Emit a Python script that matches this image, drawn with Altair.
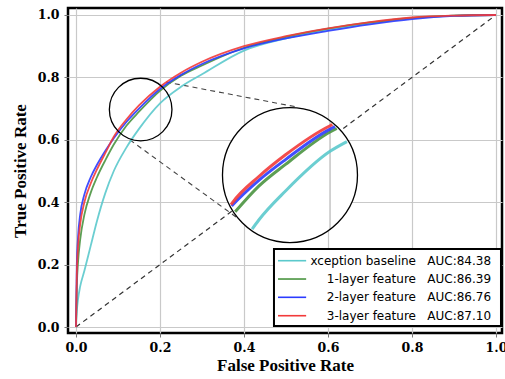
import altair as alt
import pandas as pd
import numpy as np

# ---------------- data ----------------
FPR = [0, 0.002, 0.005, 0.01, 0.02, 0.035, 0.05, 0.07, 0.09, 0.12, 0.15, 0.2,
       0.25, 0.3, 0.4, 0.5, 0.6, 0.7, 0.8, 0.9, 1.0]
TPR_BASE = [0, 0.05, 0.09, 0.13, 0.18, 0.26, 0.34, 0.43, 0.5, 0.575, 0.635, 0.717,
            0.77, 0.81, 0.886, 0.925, 0.952, 0.973, 0.99, 0.998, 1.0]
TPR_L1 = [0, 0.13, 0.21, 0.28, 0.36, 0.43, 0.48, 0.535, 0.585, 0.645, 0.69, 0.757,
          0.805, 0.838, 0.895, 0.93, 0.956, 0.976, 0.991, 0.998, 1.0]
TPR_L2 = [0, 0.2, 0.29, 0.36, 0.425, 0.48, 0.52, 0.565, 0.605, 0.657, 0.70, 0.763,
          0.808, 0.843, 0.893, 0.925, 0.949, 0.97, 0.987, 0.997, 1.0]
TPR_L3 = [0, 0.17, 0.26, 0.33, 0.40, 0.46, 0.505, 0.558, 0.61, 0.665, 0.71, 0.77,
          0.815, 0.85, 0.9, 0.932, 0.957, 0.977, 0.992, 0.998, 1.0]

NAMES = ["xception baseline", "1-layer feature", "2-layer feature", "3-layer feature"]
AUCS = ["AUC:84.38", "AUC:86.39", "AUC:86.76", "AUC:87.10"]
COLORS = ["#5bc9cc", "#4a9440", "#2b3bff", "#f23a3a"]
SERIES = [TPR_BASE, TPR_L1, TPR_L2, TPR_L3]

TICKS = [0.0, 0.2, 0.4, 0.6, 0.8, 1.0]

# ---------------- layout ----------------
XMIN, XMAX = -0.019, 1.0143
YMIN, YMAX = -0.0192, 1.0224
W, H = 434, 325
SX = W / (XMAX - XMIN)
SY = H / (YMAX - YMIN)

# zoom annotation (data coordinates)
SMALL_C = (0.154, 0.697)
SMALL_R_PX = 31.3
BIG_C = (0.5095, 0.487)
BIG_R_PX = 67.5
SRC_C = (0.155, 0.668)      # centre of the magnified region
MAG_X, MAG_Y = 2.12, 1.55

CONN_X = [0.2143, 0.5262, 0.1286, 0.3976]
CONN_Y = [0.7853, 0.7051, 0.5994, 0.3365]
CONN_ID = ["top", "top", "bottom", "bottom"]

XS = alt.Scale(domain=[XMIN, XMAX], nice=False, zero=False)
YS = alt.Scale(domain=[YMIN, YMAX], nice=False, zero=False)
AX = alt.Axis(values=TICKS, format=".1f", title="False Positive Rate",
              labelPadding=4, titlePadding=4)
AY = alt.Axis(values=TICKS, format=".1f", title="True Positive Rate",
              labelPadding=5, titlePadding=8)


def X(field="x"):
    return alt.X(f"{field}:Q", scale=XS, axis=AX)


def Y(field="y"):
    return alt.Y(f"{field}:Q", scale=YS, axis=AY)


# ---------------- main curves ----------------
rows = []
for k, (name, tpr) in enumerate(zip(NAMES, SERIES)):
    for f, t in zip(FPR, tpr):
        rows.append({"x": f, "y": t, "series": name, "k": k})
curves = pd.DataFrame(rows)

color = alt.Color("series:N", scale=alt.Scale(domain=NAMES, range=COLORS), legend=None)

main = alt.Chart(curves).mark_line(strokeWidth=1.8, opacity=0.9, interpolate="monotone").encode(
    x=X(), y=Y(), color=color, detail="k:O", order="x:Q"
)

# ---------------- inset curves (magnified + clipped to circle) ----------------
def inset_curve(fpr, tpr):
    xs = BIG_C[0] + MAG_X * (np.array(fpr) - SRC_C[0])
    ys = BIG_C[1] + MAG_Y * (np.array(tpr) - SRC_C[1])
    u = (xs - BIG_C[0]) * SX
    v = (ys - BIG_C[1]) * SY
    R = BIG_R_PX - 1.5
    out = []
    for i in range(len(u) - 1):
        p0 = np.array([u[i], v[i]])
        p1 = np.array([u[i + 1], v[i + 1]])
        if np.hypot(*p0) <= R:
            out.append(p0)
        d = p1 - p0
        a = d @ d
        b = 2 * (p0 @ d)
        c = p0 @ p0 - R * R
        disc = b * b - 4 * a * c
        if a > 0 and disc > 0:
            sq = np.sqrt(disc)
            for t in sorted([(-b - sq) / (2 * a), (-b + sq) / (2 * a)]):
                if 0 < t < 1:
                    out.append(p0 + t * d)
    if np.hypot(u[-1], v[-1]) <= R:
        out.append(np.array([u[-1], v[-1]]))
    return [(BIG_C[0] + p[0] / SX, BIG_C[1] + p[1] / SY) for p in out]


irows = []
for k, (name, tpr) in enumerate(zip(NAMES, SERIES)):
    for (x, y) in inset_curve(FPR, tpr):
        irows.append({"x": x, "y": y, "series": name, "k": k})
inset = pd.DataFrame(irows)

inset_lines = alt.Chart(inset).mark_line(strokeWidth=3, opacity=0.9, interpolate="monotone").encode(
    x=X(), y=Y(), color=color, detail="k:O", order="x:Q"
)

# magnified grid line x=0.2 inside the big circle
gx = BIG_C[0] + MAG_X * (0.2 - SRC_C[0])
gdx = (gx - BIG_C[0]) * SX
gdy = np.sqrt(BIG_R_PX ** 2 - gdx ** 2) / SY
igrid = pd.DataFrame({"x": [gx], "y": [BIG_C[1] - gdy], "y2": [BIG_C[1] + gdy]})
inset_grid = alt.Chart(igrid).mark_rule(color="#c4c4c4", strokeWidth=1.5).encode(
    x=X(), y=Y(), y2="y2:Q"
)

# circles
big_df = pd.DataFrame({"x": [BIG_C[0]], "y": [BIG_C[1]]})
small_df = pd.DataFrame({"x": [SMALL_C[0]], "y": [SMALL_C[1]]})
big_fill = alt.Chart(big_df).mark_point(shape="circle", filled=True, color="white",
                                         opacity=1, size=(2 * BIG_R_PX) ** 2).encode(x=X(), y=Y())
big_ring = alt.Chart(big_df).mark_point(shape="circle", filled=False, color="black", opacity=1,
                                         strokeWidth=1.3, size=(2 * BIG_R_PX) ** 2).encode(x=X(), y=Y())
small_ring = alt.Chart(small_df).mark_point(shape="circle", filled=False, color="black", opacity=1,
                                             strokeWidth=1.3, size=(2 * SMALL_R_PX) ** 2).encode(x=X(), y=Y())

# diagonal + connectors
diag = alt.Chart(pd.DataFrame({"x": [0.0, 1.0], "y": [0.0, 1.0]})).mark_line(
    color="#333333", strokeWidth=1.2, strokeDash=[5, 4]).encode(x=X(), y=Y())
conn = alt.Chart(pd.DataFrame({"x": CONN_X, "y": CONN_Y, "id": CONN_ID})).mark_line(
    color="#444444", strokeWidth=1.1, strokeDash=[5, 4]).encode(x=X(), y=Y(), detail="id:N")

# ---------------- legend (built as marks) ----------------
LEG_BOX = {"x": [0.4714], "x2": [1.0119], "y": [0.0032], "y2": [0.25]}
LEG_ROW_Y = [0.2125, 0.1538, 0.0952, 0.0362]
leg_box = alt.Chart(pd.DataFrame(LEG_BOX)).mark_rect(
    fill="white", stroke="black", strokeWidth=2).encode(x=X(), x2="x2:Q", y=Y(), y2="y2:Q")
leg = pd.DataFrame({"series": NAMES, "auc": AUCS, "y": LEG_ROW_Y,
                    "x": [0.481] * 4, "x2": [0.548] * 4,
                    "xn": [0.8095] * 4, "xa": [0.8364] * 4})
leg_sw = alt.Chart(leg).mark_rule(strokeWidth=1.6).encode(x=X(), x2="x2:Q", y=Y(), color=color)
leg_name = alt.Chart(leg).mark_text(align="right", baseline="middle", font="DejaVu Sans",
                                    fontSize=12, color="black").encode(x=X("xn"), y=Y(), text="series:N")
leg_auc = alt.Chart(leg).mark_text(align="left", baseline="middle", font="DejaVu Sans",
                                   fontSize=12, color="black").encode(x=X("xa"), y=Y(), text="auc:N")

chart = alt.layer(
    diag, conn, main, big_fill, inset_grid, inset_lines, big_ring, small_ring,
    leg_box, leg_sw, leg_name, leg_auc
).properties(
    width=W, height=H,
    autosize=alt.AutoSizeParams(type="none"),
    padding={"left": 68, "top": 8, "right": 3, "bottom": 46},
).configure_view(
    stroke="black", strokeWidth=2.5
).configure_axis(
    grid=True, gridColor="#c9c9c9", gridWidth=1.2, domain=False,
    tickColor="#777777", tickSize=4,
    labelFont="DejaVu Serif", labelFontWeight="bold", labelFontSize=12.5, labelColor="black",
    titleFont="Liberation Serif", titleFontWeight="bold", titleFontSize=17, titleColor="black",
)

chart.save("out.html", embed_options={"renderer": "svg", "actions": False})
